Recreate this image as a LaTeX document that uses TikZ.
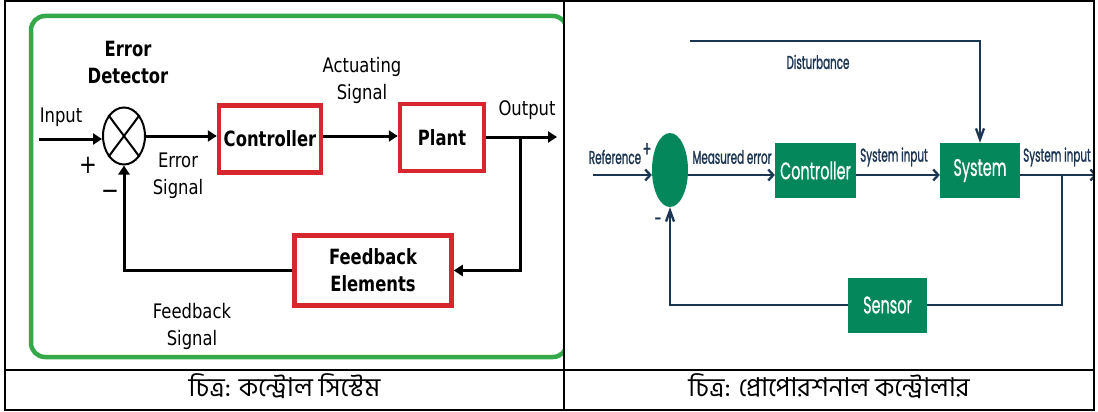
\documentclass[tikz,border=0pt]{standalone}
\usepackage{fontspec}
\setmainfont{DejaVu Sans}
\newfontfamily\lreg{DejaVu Sans}[FakeStretch=0.82]
\newfontfamily\lbold{DejaVu Sans}[FakeStretch=0.78]
\newfontfamily\rfont{Poppins}[FakeStretch=0.56,FakeBold=1.2]
\newfontfamily\rbfont{Poppins}[FakeStretch=0.6,FakeBold=0.6]
\newfontfamily\bnfont{Hind Siliguri}[Script=Bengali]
\usetikzlibrary{arrows.meta,shapes.geometric}
\definecolor{redb}{HTML}{D7262E}
\definecolor{greenb}{HTML}{35A84A}
\definecolor{navy}{HTML}{1C3553}
\definecolor{gbox}{HTML}{04875A}
\begin{document}
\begin{tikzpicture}[x=1pt,y=-1pt,
  lab/.style={font=\lreg\fontsize{20}{27}\selectfont, align=center, inner sep=0pt},
  blab/.style={font=\lbold\bfseries\fontsize{21}{27}\selectfont, align=center, inner sep=0pt},
  redbox/.style={draw=redb, line width=4.5pt, inner sep=0pt, blab},
  larrow/.style={line width=3pt, -{Triangle[length=9pt,width=11pt]}},
  rlab/.style={font=\rfont\fontsize{18.5}{20}\selectfont, text=navy, inner sep=0pt},
  gbx/.style={fill=gbox, draw=none, text=white, inner sep=0pt, minimum height=55pt, font=\rbfont\fontsize{24}{28}\selectfont},
  rline/.style={draw=navy, line width=2.3pt},
  rarrowh/.style={rline, -{Straight Barb[length=5pt,width=11pt]}},
  rarrowv/.style={rline, -{Straight Barb[length=11pt,width=8pt]}},
  capt/.style={font=\bnfont\fontsize{26}{28}\selectfont, inner sep=0pt, anchor=base}
]
\useasboundingbox (0,0) rectangle (1098,412);

% ---------- left panel ----------
\begin{scope}
  \clip (0,0) rectangle (563,412);
  \draw[greenb, line width=4.5pt, rounded corners=14pt] (31,16) rectangle (567,357);
\end{scope}

\node[ellipse, draw, line width=2pt, minimum width=42pt, minimum height=57pt, inner sep=0pt] (sum) at (124,136) {};
\draw[line width=2pt] (sum.north west) -- (sum.south east);
\draw[line width=2pt] (sum.north east) -- (sum.south west);

\node[redbox, minimum width=102pt, minimum height=67pt] (ctrl) at (270,139) {Controller};
\node[redbox, minimum width=84pt, minimum height=67pt] (plant) at (442,137.5) {Plant};
\node[redbox, minimum width=157pt, minimum height=70pt] (fb) at (373,270.5) {Feedback\\Elements};

\node[blab] (errdet) at (128,62) {Error\\Detector};
\node[lab] (inlab) at (61,117) {Input};
\node[lab] (errsig) at (178,176) {Error\\Signal};
\node[lab] (actsig) at (362,80) {Actuating\\Signal};
\node[lab] (outlab) at (527,110) {Output};
\node[lab] (fbsig) at (192,326) {Feedback\\Signal};
\node[font=\lreg\fontsize{26}{26}\selectfont, inner sep=0pt] (plus) at (88,165) {+};
\node[font=\lreg\fontsize{26}{26}\selectfont, inner sep=0pt] (minus) at (110,195) {−};

\coordinate (inp) at (39,139);
\coordinate (outL) at (557,137);
\coordinate (brL) at (520,137);
\draw[larrow] (inp) -- (inp -| sum.west);
\draw[larrow] (sum.east) -- (sum.east -| ctrl.west);
\draw[larrow] (ctrl.east |- sum.east) -- (plant.west |- sum.east);
\draw[larrow] (plant.east |- outL) -- (outL);
\draw[larrow] (brL) |- (fb.east);
\draw[larrow] (fb.west) -| (sum.south);

% ---------- right panel ----------
\node[ellipse, fill=gbox, minimum width=36pt, minimum height=74pt, inner sep=0pt] (sumR) at (670,170) {};
\node[gbx, minimum width=81pt] (ctrlR) at (815.5,170.5) {Controller};
\node[gbx, minimum width=80pt] (sysR) at (980,170.5) {System};
\node[gbx, minimum width=79pt] (sens) at (887.5,305) {Sensor};

\node[rlab] (dlab) at (818,62) {Disturbance};
\node[rlab] (reflab) at (615,157) {Reference};
\node[rlab] (melab) at (732,157) {Measured error};
\node[rlab] (si1) at (894,157) {System input};
\node[rlab] (si2) at (1057,157) {System input};
\node[font=\rfont\fontsize{22}{22}\selectfont, text=navy, inner sep=0pt] (plusR) at (647,150) {+};
\node[font=\rfont\fontsize{22}{22}\selectfont, text=navy, inner sep=0pt] (minusR) at (658,222) {-};

\coordinate (refin) at (593,175);
\coordinate (dist) at (690,41);
\coordinate (brR) at (1062,175);
\coordinate (outR) at (1097,175);
\draw[rarrowh] (refin) -- (refin -| sumR.west);
\draw[rarrowh] (sumR.east |- refin) -- (ctrlR.west |- refin);
\draw[rarrowh] (ctrlR.east |- refin) -- (sysR.west |- refin);
\begin{scope}
  \clip (0,0) rectangle (1094,412);
  \draw[rarrowh] (sysR.east |- refin) -- (outR);
\end{scope}
\draw[rline] (brR) |- (sens.east);
\draw[rarrowv] (sens.west) -| (sumR.south);
\draw[rarrowv] (dist) -| (sysR.north);

% ---------- table ----------
\draw[line width=1.6pt] (5,1) rectangle (1094,410);
\draw[line width=1.6pt] (564,1) -- (564,410);
\draw[line width=1.6pt] (5,370) -- (1094,370);

\node[capt] (cap1) at (284.5,396) {চিত্র: কন্ট্রোল সিস্টেম};
\node[capt] (cap2) at (829,396) {চিত্র: প্রোপোরশনাল কন্ট্রোলার};
\end{tikzpicture}
\end{document}
